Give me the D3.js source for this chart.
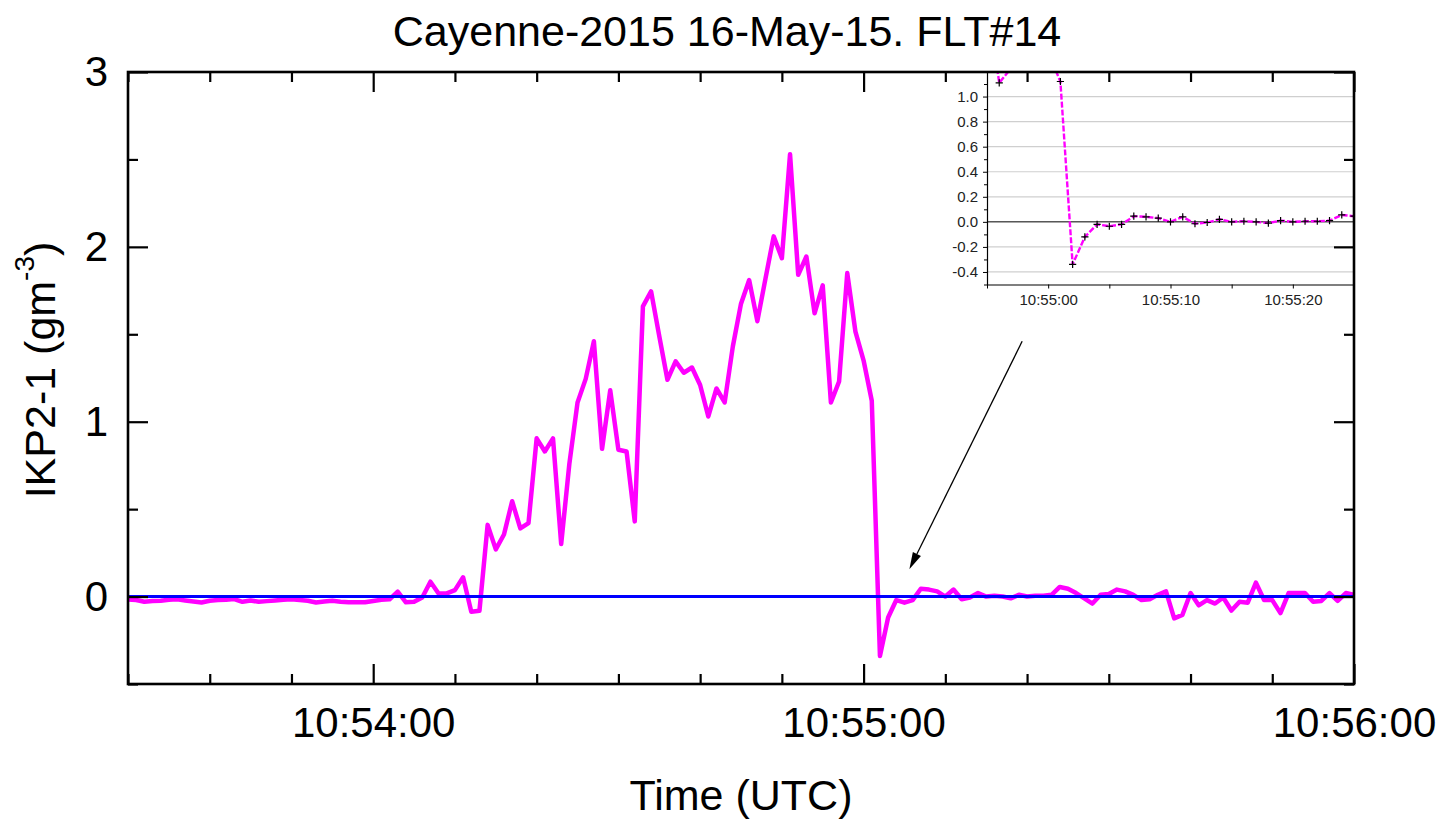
<!DOCTYPE html>
<html>
<head>
<meta charset="utf-8">
<script src="https://cdn.jsdelivr.net/npm/d3@7"></script>
<style>
  html, body { margin: 0; padding: 0; background: #fff; }
  svg { display: block; }
  text { font-family: "Liberation Sans", Arial, Helvetica, sans-serif; }
</style>
</head>
<body>
<svg id="chart" width="1453" height="821"></svg>
<script>
// IKP2-1 total water content, 1 Hz samples starting at 10:53:30 UTC
const startTime = "2015-05-16T10:53:30Z";
const sampleSeconds = 1;
const ikp2Values = [
  // 10:53:30 - 10:53:59
  -0.016, -0.02, -0.03, -0.025, -0.024, -0.018, -0.016, -0.022, -0.028, -0.034,
  -0.024, -0.02, -0.018, -0.014, -0.03, -0.022, -0.03, -0.026, -0.022, -0.018,
  -0.016, -0.02, -0.024, -0.034, -0.028, -0.024, -0.03, -0.033, -0.033, -0.033,
  // 10:54:00 - 10:54:59
  -0.025, -0.018, -0.016, 0.028, -0.033, -0.03, -0.005, 0.085, 0.018, 0.018,
  0.037, 0.11, -0.087, -0.081, 0.41, 0.27, 0.355, 0.545, 0.39, 0.42,
  0.905, 0.83, 0.905, 0.30, 0.76, 1.11, 1.245, 1.46, 0.845, 1.18,
  0.84, 0.83, 0.43, 1.66, 1.745, 1.49, 1.24, 1.345, 1.28, 1.31,
  1.21, 1.03, 1.19, 1.11, 1.43, 1.675, 1.81, 1.575, 1.82, 2.06,
  1.935, 2.53, 1.84, 1.945, 1.62, 1.78, 1.11, 1.23, 1.85, 1.515,
  // 10:55:00 - 10:55:59
  1.35, 1.12, -0.34, -0.12, -0.02, -0.035, -0.02, 0.045, 0.04, 0.03,
  0.0, 0.04, -0.015, -0.005, 0.02, 0.0, 0.005, 0.0, -0.01, 0.01,
  0.0, 0.005, 0.005, 0.01, 0.055, 0.045, 0.02, -0.01, -0.04, 0.01,
  0.015, 0.04, 0.03, 0.01, -0.02, -0.015, 0.01, 0.03, -0.125, -0.105,
  0.02, -0.05, -0.02, -0.04, -0.005, -0.08, -0.03, -0.035, 0.08, -0.02,
  -0.02, -0.095, 0.02, 0.02, 0.02, -0.03, -0.025, 0.02, -0.025, 0.02,
  // 10:56:00
  0.01
];

const titleText = "Cayenne-2015 16-May-15. FLT#14";
const xLabelText = "Time (UTC)";

const mainXDomain = ["2015-05-16T10:53:30Z", "2015-05-16T10:56:00Z"];
const mainYDomain = [-0.5, 3];
const mainYMajor = [0, 1, 2, 3];
const mainYMinor = [-0.5, 0.5, 1.5, 2.5];

const insetXDomain = ["2015-05-16T10:54:55Z", "2015-05-16T10:55:25Z"];
const insetYDomain = [-0.5, 1.2];
const insetYTicks = [-0.4, -0.2, 0, 0.2, 0.4, 0.6, 0.8, 1.0];
const insetYMinor = [-0.5, -0.3, -0.1, 0.1, 0.3, 0.5, 0.7, 0.9, 1.1];
const insetXLabels = ["2015-05-16T10:55:00Z", "2015-05-16T10:55:10Z", "2015-05-16T10:55:20Z"];

// annotation arrow pointing from the inset down to the trailing edge of the cloud
const arrowStart = { t: "2015-05-16T10:55:19.4Z", v: 1.46 };
const arrowEnd   = { t: "2015-05-16T10:55:05.6Z", v: 0.156 };

const t0 = new Date(startTime).getTime();
const series = ikp2Values.map((v, i) => ({ t: new Date(t0 + i * sampleSeconds * 1000), v }));

const svg = d3.select("#chart");
const W = 1453, H = 821;
const M = { left: 128, right: 1354, top: 72, bottom: 684 };

const x = d3.scaleUtc().domain(mainXDomain.map(d => new Date(d))).range([M.left, M.right]);
const y = d3.scaleLinear().domain(mainYDomain).range([M.bottom, M.top]);

svg.append("rect").attr("width", W).attr("height", H).attr("fill", "#fff");

svg.append("defs").append("clipPath").attr("id", "mainClip")
  .append("rect").attr("x", M.left).attr("y", M.top)
  .attr("width", M.right - M.left).attr("height", M.bottom - M.top);

const plot = svg.append("g").attr("clip-path", "url(#mainClip)");

const line = d3.line().x(d => x(d.t)).y(d => y(d.v));
plot.append("path").datum(series)
  .attr("d", line)
  .attr("fill", "none")
  .attr("stroke", "#ff00ff")
  .attr("stroke-width", 4.5)
  .attr("stroke-linejoin", "round")
  .attr("stroke-linecap", "round");

// zero reference
plot.append("line")
  .attr("x1", M.left).attr("x2", M.right)
  .attr("y1", y(0)).attr("y2", y(0))
  .attr("stroke", "#0000ff").attr("stroke-width", 3);

// ---------- inset ----------
const I = { left: 987, right: 1354, top: 71.5, bottom: 284.5 };
const ix = d3.scaleUtc().domain(insetXDomain.map(d => new Date(d))).range([I.left, I.right]);
const iy = d3.scaleLinear().domain(insetYDomain).range([I.bottom, I.top]);

const inset = svg.append("g");
inset.append("rect")
  .attr("x", I.left).attr("y", I.top)
  .attr("width", I.right - I.left).attr("height", I.bottom - I.top)
  .attr("fill", "#fff");

svg.select("defs").append("clipPath").attr("id", "insetClip")
  .append("rect").attr("x", I.left).attr("y", I.top)
  .attr("width", I.right - I.left).attr("height", I.bottom - I.top);

inset.append("g").selectAll("line")
  .data(insetYTicks.filter(d => d !== 0))
  .join("line")
  .attr("x1", I.left).attr("x2", I.right)
  .attr("y1", d => iy(d)).attr("y2", d => iy(d))
  .attr("stroke", "#cfcfcf").attr("stroke-width", 1.2);

inset.append("line")
  .attr("x1", I.left).attr("x2", I.right)
  .attr("y1", iy(0)).attr("y2", iy(0))
  .attr("stroke", "#000").attr("stroke-width", 1);

const [ia, ib] = ix.domain();
const insetSeries = series.filter(d => d.t >= new Date(+ia - 2000) && d.t <= new Date(+ib + 2000));
const insetPlot = inset.append("g").attr("clip-path", "url(#insetClip)");
insetPlot.append("path").datum(insetSeries)
  .attr("d", d3.line().x(d => ix(d.t)).y(d => iy(d.v)))
  .attr("fill", "none")
  .attr("stroke", "#ff00ff")
  .attr("stroke-width", 2.4)
  .attr("stroke-dasharray", "6,2");

const cross = 3.6;
insetPlot.append("g").selectAll("path")
  .data(insetSeries.filter(d => d.v >= insetYDomain[0] && d.v <= insetYDomain[1]))
  .join("path")
  .attr("d", d => {
    const px = ix(d.t), py = iy(d.v);
    return `M${px - cross},${py}H${px + cross}M${px},${py - cross}V${py + cross}`;
  })
  .attr("stroke", "#000").attr("stroke-width", 1.2).attr("fill", "none");

// inset axes
const fmtTime = d3.utcFormat("%H:%M:%S");
const labelSet = new Set(insetXLabels.map(d => +new Date(d)));
const insetXTicks = ix.ticks(d3.utcSecond.every(5));

const ixAxis = inset.append("g").attr("transform", `translate(0,${I.bottom})`)
  .call(d3.axisBottom(ix).tickValues(insetXTicks)
    .tickFormat(d => labelSet.has(+d) ? fmtTime(d) : "")
    .tickSizeInner(4).tickSizeOuter(0).tickPadding(6));
const iyAxis = inset.append("g").attr("transform", `translate(${I.left},0)`)
  .call(d3.axisLeft(iy).tickValues(insetYTicks)
    .tickFormat(d => d.toFixed(1))
    .tickSizeInner(4).tickSizeOuter(0).tickPadding(5));
inset.append("g").attr("transform", `translate(${I.left},0)`)
  .call(d3.axisLeft(iy).tickValues(insetYMinor).tickFormat("").tickSizeInner(3).tickSizeOuter(0))
  .call(g => g.select(".domain").remove());

[ixAxis, iyAxis].forEach(g => {
  g.selectAll("text").attr("font-size", 15).attr("fill", "#222")
    .attr("font-family", '"Liberation Sans", Arial, sans-serif');
  g.selectAll("line").attr("stroke", "#000").attr("stroke-width", 1);
  g.select(".domain").attr("stroke", "#000").attr("stroke-width", 1.2);
});

// ---------- arrow ----------
{
  const x1 = x(new Date(arrowStart.t)), y1 = y(arrowStart.v);
  const x2 = x(new Date(arrowEnd.t)), y2 = y(arrowEnd.v);
  const ang = Math.atan2(y2 - y1, x2 - x1);
  const headLen = 17, headHalf = 4.5;
  const bx = x2 - headLen * Math.cos(ang), by = y2 - headLen * Math.sin(ang);
  const nx = -Math.sin(ang), ny = Math.cos(ang);
  svg.append("line")
    .attr("x1", x1).attr("y1", y1).attr("x2", bx).attr("y2", by)
    .attr("stroke", "#000").attr("stroke-width", 1.3);
  svg.append("path")
    .attr("d", `M${x2},${y2}L${bx + nx * headHalf},${by + ny * headHalf}L${bx - nx * headHalf},${by - ny * headHalf}Z`)
    .attr("fill", "#000");
}

// ---------- main frame and ticks ----------
const majorT = x.ticks(d3.utcMinute.every(1));
const minorT = x.ticks(d3.utcSecond.every(10)).filter(d => d.getUTCSeconds() !== 0);

function styleTicks(g, w) {
  g.select(".domain").remove();
  g.selectAll("line").attr("stroke", "#000").attr("stroke-width", w);
}

const bottomAxis = svg.append("g").attr("transform", `translate(0,${M.bottom})`)
  .call(d3.axisBottom(x).tickValues(majorT).tickFormat(fmtTime)
    .tickSizeInner(-20).tickSizeOuter(0).tickPadding(23))
  .call(g => styleTicks(g, 2.2));
svg.append("g").attr("transform", `translate(0,${M.bottom})`)
  .call(d3.axisBottom(x).tickValues(minorT).tickFormat("").tickSizeInner(-10).tickSizeOuter(0))
  .call(g => styleTicks(g, 2.2));
svg.append("g").attr("transform", `translate(0,${M.top})`)
  .call(d3.axisTop(x).tickValues(majorT).tickFormat("").tickSizeInner(-20).tickSizeOuter(0))
  .call(g => styleTicks(g, 2.2));
svg.append("g").attr("transform", `translate(0,${M.top})`)
  .call(d3.axisTop(x).tickValues(minorT).tickFormat("").tickSizeInner(-10).tickSizeOuter(0))
  .call(g => styleTicks(g, 2.2));

const leftAxis = svg.append("g").attr("transform", `translate(${M.left},0)`)
  .call(d3.axisLeft(y).tickValues(mainYMajor).tickFormat(d3.format("d"))
    .tickSizeInner(-20).tickSizeOuter(0).tickPadding(20))
  .call(g => styleTicks(g, 2.2));
svg.append("g").attr("transform", `translate(${M.left},0)`)
  .call(d3.axisLeft(y).tickValues(mainYMinor).tickFormat("").tickSizeInner(-10).tickSizeOuter(0))
  .call(g => styleTicks(g, 2.2));
svg.append("g").attr("transform", `translate(${M.right},0)`)
  .call(d3.axisRight(y).tickValues(mainYMajor).tickFormat("").tickSizeInner(-20).tickSizeOuter(0))
  .call(g => styleTicks(g, 2.2));
svg.append("g").attr("transform", `translate(${M.right},0)`)
  .call(d3.axisRight(y).tickValues(mainYMinor).tickFormat("").tickSizeInner(-10).tickSizeOuter(0))
  .call(g => styleTicks(g, 2.2));

[bottomAxis, leftAxis].forEach(g => {
  g.selectAll("text").attr("font-size", 42).attr("fill", "#000")
    .attr("font-family", '"Liberation Sans", Arial, sans-serif');
});

svg.append("rect")
  .attr("x", M.left).attr("y", M.top)
  .attr("width", M.right - M.left).attr("height", M.bottom - M.top)
  .attr("fill", "none").attr("stroke", "#000").attr("stroke-width", 2.6);

// ---------- titles ----------
svg.append("text")
  .attr("x", 727).attr("y", 46)
  .attr("text-anchor", "middle")
  .attr("font-size", 43)
  .text(titleText);

svg.append("text")
  .attr("x", (M.left + M.right) / 2).attr("y", 810)
  .attr("text-anchor", "middle")
  .attr("font-size", 43)
  .text(xLabelText);

const yl = svg.append("text")
  .attr("transform", `translate(55,${(M.top + M.bottom) / 2 - 8}) rotate(-90)`)
  .attr("text-anchor", "middle")
  .attr("font-size", 43);
yl.append("tspan").text("IKP2-1 (gm");
yl.append("tspan").attr("font-size", 28).attr("dy", -21).text("-3");
yl.append("tspan").attr("dy", 21).text(")");
</script>
</body>
</html>
